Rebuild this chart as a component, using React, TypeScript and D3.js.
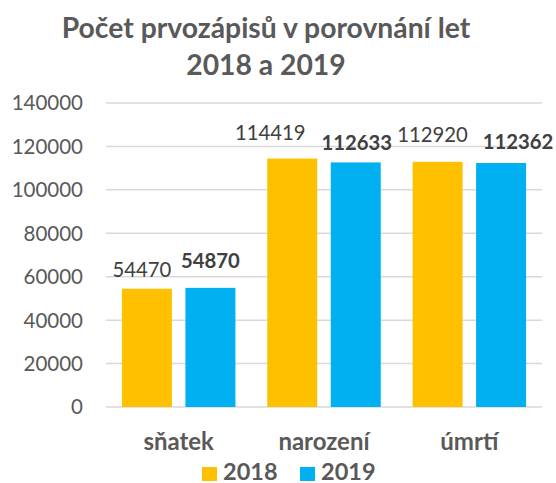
import React from 'react';
import * as d3 from 'd3';

const categories = ['sňatek', 'narození', 'úmrtí'];
const seriesNames = ['2018', '2019'];
const values2018 = [54470, 114419, 112920];
const values2019 = [54870, 112633, 112362];
const yTicks = [0, 20000, 40000, 60000, 80000, 100000, 120000, 140000];

const W = 556;
const H = 483;
const FONT = 'Lato, "Open Sans", sans-serif';
const colors = ['#FFC000', '#00B0F0'];
// hand-placed label nudges (px) as in the original
const labelDX = [[-5, -22, -5], [0, 1, 17]];
const labelDY = [[12, 18.5, 20], [19.5, 12.4, 13.7]];

export default function App() {
  const left = 106, right = 542, top = 103, bottom = 407;
  const x0 = d3.scaleBand<string>().domain(categories).range([left, right]).padding(0);
  const x1 = d3.scaleBand<string>().domain(seriesNames).range([0, x0.bandwidth()])
    .paddingInner(0.2126).paddingOuter(0.2507);
  const y = d3.scaleLinear().domain([0, 140000]).range([bottom, top]);
  const series = [values2018, values2019];

  return (
    <svg width={W} height={H} style={{ position: 'absolute', left: 0, top: 0, background: '#fff' }} fontFamily={FONT}>
      <text x={266} y={38} textAnchor="middle" fontSize={28.3} fontWeight={700} fill="#595959">Počet prvozápisů v porovnání let</text>
      <text x={266} y={75} textAnchor="middle" fontSize={28.3} fontWeight={700} fill="#595959">2018 a 2019</text>
      {yTicks.map(t => (
        <g key={t}>
          <line x1={left} x2={right} y1={y(t)} y2={y(t)} stroke="#d9d9d9" strokeWidth={1.5} />
          <text x={83} y={y(t)} dy="0.36em" textAnchor="end" fontSize={20.5} fill="#595959">{t}</text>
        </g>
      ))}
      {series.map((vals, si) => vals.map((v, ci) => {
        const bx = (x0(categories[ci]) as number) + (x1(seriesNames[si]) as number);
        return (
          <rect key={`${si}-${ci}`} x={bx} y={y(v)} width={x1.bandwidth()} height={y(0) - y(v)} fill={colors[si]} />
        );
      }))}
      {series.map((vals, si) => vals.map((v, ci) => {
        const cx = (x0(categories[ci]) as number) + (x1(seriesNames[si]) as number) + x1.bandwidth() / 2;
        return (
          <text key={`l${si}-${ci}`} x={cx + labelDX[si][ci]} y={y(v) - labelDY[si][ci]} textAnchor="middle"
            fontSize={20.3} fontWeight={si === 1 ? 700 : 400} fill="#404040">{v}</text>
        );
      }))}
      {categories.map(c => (
        <text key={c} x={(x0(c) as number) + x0.bandwidth() / 2} y={450} textAnchor="middle" fontSize={24} fontWeight={700} fill="#595959">{c}</text>
      ))}
      {seriesNames.map((s, i) => {
        const lx = [202, 300][i];
        return (
          <g key={s}>
            <rect x={lx} y={467} width={15} height={14} fill={colors[i]} />
            <text x={lx + 21} y={479.5} fontSize={23.5} fontWeight={700} fill="#595959">{s}</text>
          </g>
        );
      })}
    </svg>
  );
}
